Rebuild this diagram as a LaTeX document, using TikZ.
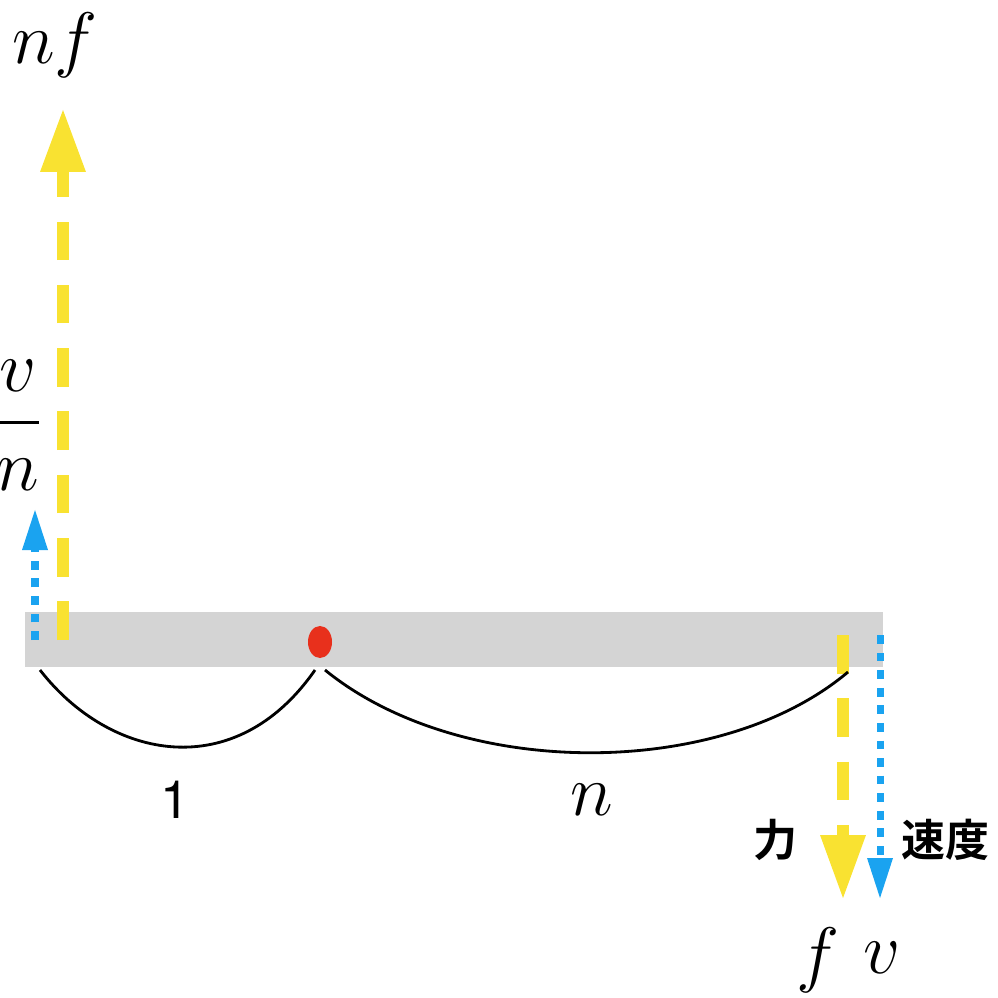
\documentclass[tikz,border=0pt]{standalone}
\usetikzlibrary{shapes.geometric}
\usepackage{amsmath}
\usepackage{fontspec}
\newfontfamily\cjk{Noto Sans CJK JP}[BoldFont={* Bold}]
\newfontfamily\heros{TeX Gyre Heros}
\begin{document}
\begin{tikzpicture}[x=0.01cm,y=-0.01cm]
\definecolor{ylw}{HTML}{F9E231}
\definecolor{blu}{HTML}{1AA3F0}
\definecolor{bar}{HTML}{D4D4D4}
\definecolor{rdot}{HTML}{E8301C}
\tikzset{
 yshaft/.style={draw=ylw,line width=3.4pt,dash pattern=on 11pt off 7pt},
 bshaft/.style={draw=blu,line width=2pt,dash pattern=on 2.5pt off 2.5pt},
 yhead/.style={fill=ylw,draw=none},
 bhead/.style={fill=blu,draw=none},
 arc/.style={draw=black,line width=0.8pt},
 mlab/.style={font=\fontsize{20}{24}\selectfont}
}
\useasboundingbox (0,0) rectangle (998,998);
\fill[bar] (25,612) rectangle (883,667);
\node[ellipse,fill=rdot,inner sep=0,minimum width=0.24cm,minimum height=0.32cm] (dot) at (320,642) {};
% left arrows
\coordinate (ys) at (63,640); \coordinate (yt) at (63,110);
\draw[yshaft] (ys) -- (63,170);
\fill[yhead] (yt) -- (40,172) -- (86,172) -- cycle;
\coordinate (bs) at (35,640); \coordinate (bt) at (35,510);
\draw[bshaft] (bs) -- (35,550);
\fill[bhead] (bt) -- (22,550) -- (48,550) -- cycle;
% right arrows
\coordinate (ys2) at (843,635); \coordinate (yt2) at (843,898);
\draw[yshaft] (ys2) -- (843,835);
\fill[yhead] (yt2) -- (820,835) -- (866,835) -- cycle;
\coordinate (bs2) at (880,635); \coordinate (bt2) at (880,898);
\draw[bshaft] (bs2) -- (880,860);
\fill[bhead] (bt2) -- (867,858) -- (893,858) -- cycle;
% arcs
\coordinate (a1) at (40,670); \coordinate (a2) at (315,670);
\coordinate (a3) at (325,670); \coordinate (a4) at (848,672);
\draw[arc] (a1) .. controls (110,760) and (235,785) .. (a2);
\draw[arc] (a3) .. controls (460,780) and (720,780) .. (a4);
% labels
\node[mlab] (lnf) at (55,45) {$nf$};
\node[mlab] (lvn) at (18,425) {$\dfrac{v}{n}$};
\node[font=\heros\fontsize{15}{18}\selectfont] (l1) at (175,800) {1};
\node[mlab] (ln) at (592,800) {$n$};
\node[font=\cjk\bfseries\fontsize{12.5}{15}\selectfont] (lf) at (775,840) {力};
\node[font=\cjk\bfseries\fontsize{12.5}{15}\selectfont] (lv) at (945,840) {速度};
\node[mlab] (f) at (818,960) {$f$};
\node[mlab] (v) at (882,958) {$v$};
\end{tikzpicture}
\end{document}
